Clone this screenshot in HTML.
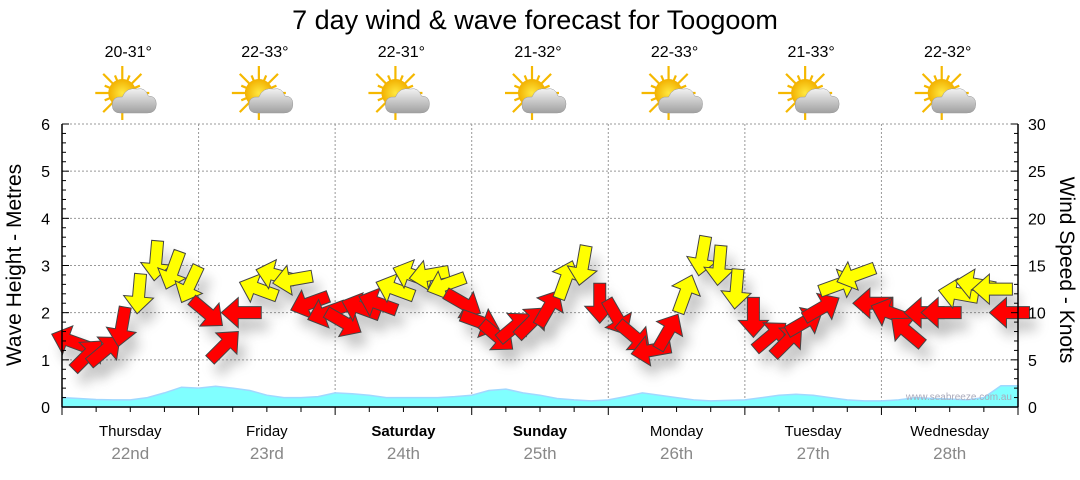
<!DOCTYPE html>
<html><head><meta charset="utf-8"><style>
body{margin:0;background:#fff;width:1080px;height:475px;overflow:hidden;font-family:"Liberation Sans","DejaVu Sans",sans-serif}
</style></head><body>
<svg id="chart" width="1080" height="475" xmlns="http://www.w3.org/2000/svg" font-family="'Liberation Sans','DejaVu Sans',sans-serif">
<defs>
<filter id="sh" x="-50%" y="-50%" width="200%" height="200%"><feGaussianBlur stdDeviation="6"/></filter>
<radialGradient id="sun" cx="0.5" cy="0.5" r="0.5"><stop offset="0" stop-color="#ffe840"/><stop offset="1" stop-color="#f2b000"/></radialGradient>
<linearGradient id="cloud" x1="0" y1="0" x2="0" y2="1"><stop offset="0" stop-color="#f2f2f2"/><stop offset="1" stop-color="#a0a0a0"/></linearGradient>
</defs>
<text x="535" y="29" font-size="27" text-anchor="middle" fill="#000">7 day wind &amp; wave forecast for Toogoom</text>
<g id="grid"></g>
<g id="waves"></g>
<g id="shadows" opacity="0.35"></g>
<g id="arrows"></g>
<g id="axes"></g>
<text x="1012" y="400" font-size="10" fill="#aab" text-anchor="end">www.seabreeze.com.au</text>
<text transform="translate(21,265) rotate(-90)" font-size="21" text-anchor="middle">Wave Height - Metres</text>
<text transform="translate(1060,270) rotate(90)" font-size="21" text-anchor="middle">Wind Speed - Knots</text>
</svg>
<script>
const days=["Thursday","Friday","Saturday","Sunday","Monday","Tuesday","Wednesday"];
const dates=["22nd","23rd","24th","25th","26th","27th","28th"];
const temps=["20-31°","22-33°","22-31°","21-32°","22-33°","21-33°","22-32°"];
const boldDays=[false,false,true,true,false,false,false];
const waveTicks=[0,1,2,3,4,5,6];
const windTicks=[0,5,10,15,20,25,30];
const windSpeed=[7,5.5,6,8.5,12,15.5,14.5,13, 10,6.5,10,12.5,14,13.5,11,10, 9,10.5,11,12.5,14,14,13,11, 9,7.5,8.5,9,10.5,13.5,15,11, 9.5,7.5,6,8,12,16,15,12.5, 9.5,7.5,7,9,10.5,13,14,11, 10,8,10,10,12,13,12.5,10];
const windDir=[200,-45,-40,100,95,95,110,115, 40,-45,180,200,195,170,160,160, 30,200,200,200,200,170,160,30, 20,40,-40,-45,-60,-70,100,90, 60,40,170,-60,-70,100,95,95, 90,-40,-45,-30,-30,-20,160,180, 200,220,180,180,190,190,180,180];
const waveH=[0.2,0.18,0.16,0.15,0.15,0.2,0.3,0.42,0.4,0.44,0.4,0.35,0.25,0.2,0.2,0.22,0.3,0.28,0.25,0.2,0.2,0.2,0.2,0.22,0.25,0.35,0.38,0.3,0.25,0.18,0.15,0.13,0.15,0.22,0.3,0.25,0.2,0.15,0.13,0.14,0.15,0.2,0.25,0.27,0.25,0.2,0.15,0.13,0.13,0.15,0.2,0.18,0.17,0.15,0.2,0.45,0.45];
const X0=62,X1=1018,Y0=407,YT=124,DW=(X1-X0)/7;
const ns="http://www.w3.org/2000/svg";
function mk(p,t,a){const e=document.createElementNS(ns,t);for(const k in a)e.setAttribute(k,a[k]);document.getElementById(p).appendChild(e);return e;}
const yW=m=>Y0-(Y0-YT)*m/6, yK=k=>Y0-(Y0-YT)*k/30, xT=h=>X0+DW*h/24;
for(const t of waveTicks){if(t>0){const l=mk('grid','line',{x1:X0,x2:X1,y1:yW(t),y2:yW(t),stroke:'#999','stroke-dasharray':'2,2'});}}
for(let d=1;d<7;d++){const l=mk('grid','line',{x1:X0+DW*d,x2:X0+DW*d,y1:YT,y2:Y0,stroke:'#999','stroke-dasharray':'2,2'});}
let pts=waveH.map((v,i)=>[xT(i*3),yW(v)]);
let d='M'+X0+','+Y0+' '+pts.map(p=>'L'+p[0].toFixed(1)+','+p[1].toFixed(1)).join(' ')+' L'+X1+','+Y0+'Z';
const wa=mk('waves','path',{d:d,fill:'#80ffff',stroke:'#a0d8ff','stroke-width':1.5});

windSpeed.forEach((k,i)=>{
 const x=xT(i*3+1.5),y=yK(k),a=windDir[i];
 const shape='M20,0 L3,-15 L3,-6 L-20,-6 L-20,6 L3,6 L3,15 Z';
 const s=mk('shadows','path',{d:shape,fill:'#555',filter:'url(#sh)',transform:`translate(${x+7},${y+12}) rotate(${a})`});
 
 const ar=mk('arrows','path',{d:shape,fill:k>=12?'#ffff00':'#ff0000',stroke:'#444','stroke-width':1,transform:`translate(${x},${y}) rotate(${a})`});
 
});
mk('axes','line',{x1:X0,x2:X0,y1:YT,y2:Y0,stroke:'#000','stroke-width':1.5});
mk('axes','line',{x1:X1,x2:X1,y1:YT,y2:Y0,stroke:'#000','stroke-width':1.5});
mk('axes','line',{x1:X0,x2:X1,y1:Y0,y2:Y0,stroke:'#000','stroke-width':1.5});
for(let m=0;m<=30;m++){const y=yW(m/5);const L=m%5==0?7:4;mk('axes','line',{x1:X0,x2:X0+L,y1:y,y2:y,stroke:'#000'});mk('axes','line',{x1:X1-L,x2:X1,y1:y,y2:y,stroke:'#000'});}
for(const t of waveTicks){const e=mk('axes','text',{x:X0-12,y:yW(t)+6,'font-size':16,'text-anchor':'end'});e.textContent=t;}
for(const t of windTicks){const e=mk('axes','text',{x:X1+10,y:yK(t)+6,'font-size':16});e.textContent=t;}
for(let q=0;q<=28;q++){const x=X0+DW*q/4;mk('axes','line',{x1:x,x2:x,y1:Y0,y2:Y0+(q%4==0?8:5),stroke:'#000'});}
days.forEach((n,i)=>{
 const cx=X0+DW*(i+0.5);
 const e=mk('axes','text',{x:cx,y:436,'font-size':15,'text-anchor':'middle','font-weight':boldDays[i]?'bold':'normal'});e.textContent=n;
 const f=mk('axes','text',{x:cx,y:459,'font-size':17,'text-anchor':'middle',fill:'#888'});f.textContent=dates[i];
 const t=mk('axes','text',{x:cx-2,y:57,'font-size':16,'text-anchor':'middle'});t.textContent=temps[i];
 const g=mk('axes','g',{transform:`translate(${cx-8},${93})`});
 for(let r=0;r<16;r++){const ang=r*22.5*Math.PI/180,L=r%2?19:27;const ln=document.createElementNS(ns,'line');ln.setAttribute('x1',0);ln.setAttribute('y1',0);ln.setAttribute('x2',(Math.cos(ang)*L).toFixed(1));ln.setAttribute('y2',(Math.sin(ang)*L).toFixed(1));ln.setAttribute('stroke','#f5b800');ln.setAttribute('stroke-width',2.2);g.appendChild(ln);}
 const c=document.createElementNS(ns,'circle');c.setAttribute('r',14);c.setAttribute('fill','url(#sun)');g.appendChild(c);
 const cl=document.createElementNS(ns,'path');cl.setAttribute('d','M-2,20 Q-10,20 -10,12 Q-10,3 0,4 Q4,-6 15,-4 Q23,-6 26,3 Q34,3 34,11 Q34,20 25,20 Z');cl.setAttribute('fill','url(#cloud)');cl.setAttribute('stroke','#999');cl.setAttribute('stroke-width',0.5);g.appendChild(cl);
});
</script>
</body></html>
